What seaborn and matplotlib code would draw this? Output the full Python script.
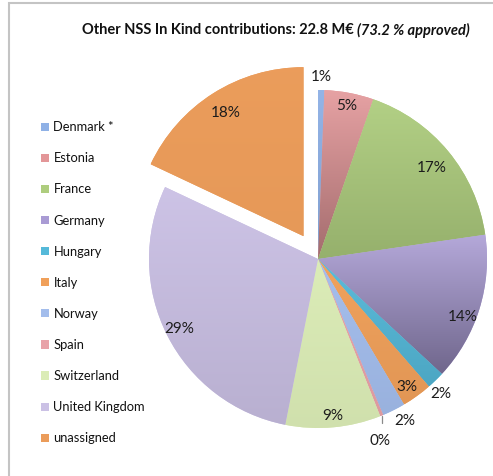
import matplotlib
matplotlib.use("Agg")
import matplotlib.pyplot as plt
import seaborn as sns
import numpy as np
from matplotlib.colors import to_rgb
from matplotlib.patches import Rectangle

# In-kind contributions by country, share of total (%)
countries = ["Denmark *", "Estonia", "France", "Germany", "Hungary", "Italy",
             "Norway", "Spain", "Switzerland", "United Kingdom", "unassigned"]
shares = [0.6, 4.7, 17.4, 14.2, 1.7, 2.9, 2.2, 0.3, 9.1, 28.9, 18.0]
slice_colors = ["#8fb1e6", "#e39698", "#aecd7e", "#a99bd4", "#55b9d9", "#f0a05a",
                "#a3bdec", "#e8a2a8", "#dbecb6", "#cbc1e5", "#eb9c5a"]
# depth of the top-to-bottom shading in each slice
shade_depth = [0.10, 0.28, 0.14, 0.34, 0.10, 0.06, 0.06, 0.05, 0.05, 0.09, 0.02]
total_meur = 22.8
approved_pct = 73.2

sns.set_theme(style="white")
plt.rcParams["font.family"] = ["Lato", "DejaVu Sans"]

W, H = 493, 476
fig = plt.figure(figsize=(W / 100, H / 100), dpi=100)
ax = fig.add_axes([0, 0, 1, 1])

R = 169.0               # pie radius in pixels
cx, cy = 318.0, H - 259.0
palette = sns.color_palette(slice_colors)
explode = [0.0] * 10 + [0.16]

wedges, _ = ax.pie(shares, colors=palette, startangle=90, counterclock=False,
                   explode=explode, radius=1.0,
                   wedgeprops=dict(edgecolor="none", linewidth=0))
ax.set_aspect("equal")
ax.axis("off")

# soft vertical shading inside every slice: lighter at the top, darker at the bottom
for w, c, d in zip(wedges, palette, shade_depth):
    c = np.array(to_rgb(c))
    top = c + (1 - c) * d * 0.4
    bottom = c * (1 - d)
    ext = w.get_path().transformed(w.get_patch_transform()).get_extents()
    t = np.linspace(0, 1, 200)[:, None, None]
    grad = top[None, None, :] * (1 - t) + bottom[None, None, :] * t
    im = ax.imshow(grad, extent=(ext.x0, ext.x1, ext.y0, ext.y1), origin="upper",
                   aspect="auto", interpolation="bilinear", zorder=w.get_zorder() + 0.1)
    im.set_clip_path(w)
ax.set_xlim(-cx / R, (W - cx) / R)
ax.set_ylim(-cy / R, (H - cy) / R)

# percentage labels: (radius, clockwise nudge in degrees)
label_place = {"Denmark *": (1.08, 0), "Estonia": (0.92, 0), "France": (0.86, 1),
               "Germany": (0.92, 4.5), "Hungary": (1.08, 2), "Italy": (0.92, 1),
               "Norway": (1.09, -1.6), "Switzerland": (0.93, 0),
               "United Kingdom": (0.92, 0), "unassigned": (0.86, 0)}
for name, val, w in zip(countries, shares, wedges):
    mid = np.deg2rad((w.theta1 + w.theta2) / 2)
    x0, y0 = w.center
    if name == "Spain":
        lx = x0 + 1.005 * np.cos(mid)
        ax.plot([lx, lx], [y0 + 1.005 * np.sin(mid), y0 + 1.05 * np.sin(mid)],
                color="#8a8a8a", lw=0.9, zorder=5)
        ax.text(lx - 0.012, y0 + 1.16 * np.sin(mid), f"{val:.0f}%",
                ha="center", va="center", fontsize=11, color="#1c1c1c", zorder=5)
        continue
    r, nudge = label_place[name]
    a = mid - np.deg2rad(nudge)
    ax.text(x0 + r * np.cos(a), y0 + r * np.sin(a), f"{val:.0f}%",
            ha="center", va="center", fontsize=11, color="#1c1c1c", zorder=5)

leg = ax.legend(wedges, countries, loc="upper left", frameon=False,
                bbox_to_anchor=(36 / W, 1 - 116 / H), bbox_transform=fig.transFigure,
                fontsize=9.3, handlelength=0.6, handleheight=0.6,
                handletextpad=0.35, labelspacing=1.48, borderaxespad=0)
for txt in leg.get_texts():
    txt.set_color("#111111")

# title: bold part followed by bold italic part
t1 = fig.text(82 / W, 1 - 30 / H, f"Other NSS In Kind contributions: {total_meur} M€ ",
              ha="left", va="center", fontsize=10.5, fontweight="bold", color="#111111")
fig.canvas.draw()
bb = t1.get_window_extent()
fig.text(bb.x1 / W, 1 - 30 / H, f"({approved_pct} % approved)",
         ha="left", va="center", fontsize=10.5, fontweight="bold", fontstyle="italic",
         color="#111111")

# chart area frame
fig.patches.append(Rectangle((9 / W, -0.1), 1.2, 1 - 3 / H + 0.1,
                             transform=fig.transFigure, fill=False,
                             edgecolor="#c4c4c4", lw=1.5))

fig.savefig("out.png", dpi=100)
